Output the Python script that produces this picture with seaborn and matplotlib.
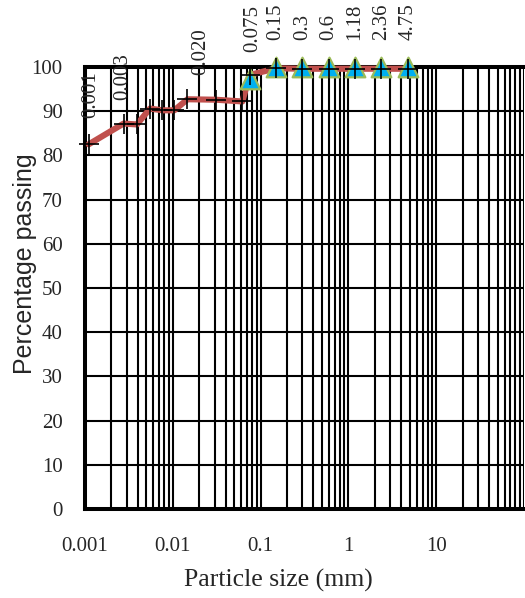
import matplotlib
matplotlib.use("Agg")
import matplotlib.pyplot as plt
from matplotlib.ticker import FixedLocator, LogLocator, NullFormatter
import seaborn as sns
import pandas as pd

# hydrometer + sieve results (black crosses, red line)
size_mm = [0.0011, 0.00275, 0.0039, 0.0055, 0.0076, 0.0104, 0.0147, 0.0308,
           0.062, 0.075, 0.15, 0.3, 0.6, 1.18, 2.36, 4.75]
passing = [82.5, 87.2, 87.0, 90.6, 90.2, 90.2, 92.7, 92.6,
           92.2, 98.2, 99.7, 99.6, 99.6, 99.6, 99.6, 99.6]

# sieve points (triangles)
sieve_mm = [0.075, 0.15, 0.3, 0.6, 1.18, 2.36, 4.75]
sieve_passing = [97.2, 100, 100, 100, 100, 100, 100]

# size labels written above the curve
size_labels = ["0.001", "0.003", "0.020", "0.075", "0.15", "0.3", "0.6", "1.18", "2.36", "4.75"]

xticks = [0.001, 0.01, 0.1, 1, 10, 100]
xtick_labels = ["0.001", "0.01", "0.1", "1", "10", ""]
yticks = [0, 10, 20, 30, 40, 50, 60, 70, 80, 90, 100]

df = pd.DataFrame({"size": size_mm, "passing": passing})
sieve = pd.DataFrame({"size": sieve_mm, "passing": sieve_passing})

sns.set_style("white")
plt.rcParams["font.family"] = ["Liberation Serif", "DejaVu Serif"]

fig = plt.figure(figsize=(5.25, 5.98), dpi=100)
ax = fig.add_axes([85 / 525, 1 - 509 / 598, 439 / 525, 442 / 598])

sns.lineplot(data=df, x="size", y="passing", color="#c0504d", lw=4.4,
             sort=False, estimator=None, ax=ax, zorder=3, clip_on=False)
sns.scatterplot(data=sieve, x="size", y="passing", marker="^", s=200,
                color="#00b0f0", edgecolor="#9bbb59", linewidth=1.6, ax=ax,
                zorder=4, clip_on=False)
sns.scatterplot(data=df, x="size", y="passing", marker="+", s=190,
                color="black", linewidth=1.2, ax=ax, zorder=5, clip_on=False)

ax.set_xscale("log")
ax.set_xlim(0.001, 100)
ax.set_ylim(0, 100)

ax.xaxis.set_major_locator(FixedLocator(xticks))
ax.set_xticklabels(xtick_labels)
ax.xaxis.set_minor_locator(LogLocator(base=10, subs=range(2, 10), numticks=20))
ax.xaxis.set_minor_formatter(NullFormatter())
ax.set_yticks(yticks)

ax.grid(True, which="both", axis="x", color="black", lw=1.5, zorder=1)
ax.grid(True, which="major", axis="y", color="black", lw=1.5, zorder=1)
ax.set_axisbelow(True)

ax.tick_params(axis="both", which="both", length=0, labelsize=15)
ax.tick_params(axis="x", pad=20)
ax.tick_params(axis="y", pad=16)

for side in ["left", "bottom", "top"]:
    ax.spines[side].set_color("black")
    ax.spines[side].set_linewidth(2.9)
ax.spines["right"].set_visible(False)

ax.set_xlabel("Particle size (mm)", fontsize=18.5)
ax.xaxis.set_label_coords(0.44, -0.135)
ax.set_ylabel("Percentage passing", fontsize=18, family=["Liberation Sans", "DejaVu Sans"])
ax.yaxis.set_label_coords(-0.11, 0.556)

label_y = [88.4, 92.5, 98.2, 103.4, 106.1, 106.1, 106.1, 106.1, 106.1, 106.1]
label_dx = [4, -3, 1, 2, 0, 0, 0, 0, 0, 0]
for txt, yv, dx in zip(size_labels, label_y, label_dx):
    ax.annotate(txt, xy=(float(txt), yv), xytext=(dx, 0), textcoords="offset points",
                rotation=90, ha="center", va="bottom", fontsize=15,
                annotation_clip=False, zorder=6)

fig.savefig("out.png", dpi=100)
